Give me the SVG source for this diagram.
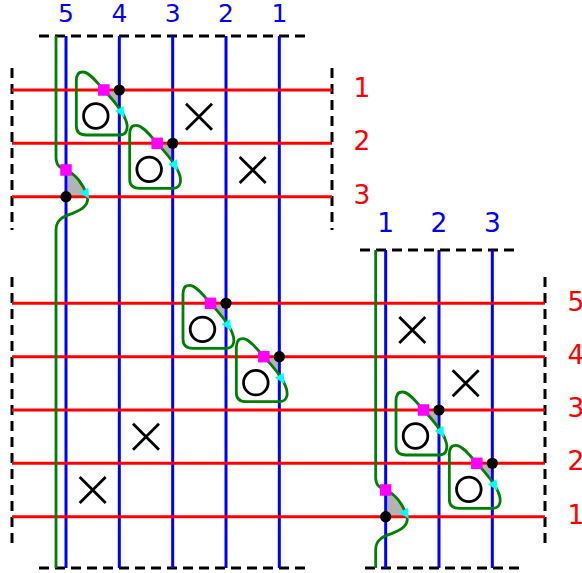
<svg xmlns="http://www.w3.org/2000/svg" xmlns:xlink="http://www.w3.org/1999/xlink" width="582" height="573" viewBox="0 0 582 573">
<style>
.red{stroke:#ff0000;stroke-width:3;fill:none}
.blue{stroke:#0000ff;stroke-width:3;fill:none}
.dash{stroke:#000;stroke-width:3;stroke-dasharray:10 6;fill:none}
.green{stroke:#008000;stroke-width:2.8;fill:none}
.shade{fill:#b3b3b3}
.mark{stroke:#000;stroke-width:2.8;fill:none}
.mag{fill:#ff00ff}
.cyan{fill:#00ffff}
.lb{font-family:"DejaVu Sans",sans-serif;font-size:26.5px;text-anchor:middle}
.top{font-size:25px}
.lblue{fill:#0000ff}
.lred{fill:#ff0000}
</style>
<defs>
<g id="loopShade"><path class="shade" d="M -15.5,1.5 L -1.5,1.5 L -1.5,18 C -6,12.5 -10,6.5 -15.5,1.5 Z"/></g>
<g id="loop">
<path class="green" d="M -37,-18 C -30,-18.5 -22,-7 -15.5,0 C -8,8 2,19 6,29 C 9,36 9,45 0,45 L -33,45 C -40,45 -43,42 -43,36 L -43,-9 C -43,-15 -41,-18 -37,-18 Z"/>
<circle class="mark" cx="-23.5" cy="26" r="12.3"/>
<rect class="mag" x="-21.25" y="-5.75" width="11.5" height="11.5"/>
<circle r="5.6" fill="#000"/>
<path class="cyan" d="M 6,0 L -4,-5 L -4,5 Z" transform="translate(2,22) rotate(60)"/>
</g>
<g id="kinkShade"><path class="shade" d="M 1.5,-26.67 L 1.5,-1.5 L 20.5,-1.5 C 16,-13 9,-22 1.5,-26 Z"/></g>
<g id="kink">
<rect class="mag" x="-5.75" y="-32.42" width="11.5" height="11.5"/>
<circle r="5.6" fill="#000"/>
<path class="cyan" d="M 6,0 L -4,-5 L -4,5 Z" transform="translate(20,-3) rotate(60)"/>
</g>
<path id="xm" class="mark" d="M -13,-13 L 13,13 M 13,-13 L -13,13"/>
</defs>

<g id="shading">
<use xlink:href="#loopShade" transform="translate(119.33,90)"/>
<use xlink:href="#loopShade" transform="translate(172.67,143.33)"/>
<use xlink:href="#loopShade" transform="translate(226,303.33)"/>
<use xlink:href="#loopShade" transform="translate(279.33,356.67)"/>
<use xlink:href="#loopShade" transform="translate(439,410)"/>
<use xlink:href="#loopShade" transform="translate(492.33,463.33)"/>
<use xlink:href="#kinkShade" transform="translate(66,196.67)"/>
<use xlink:href="#kinkShade" transform="translate(385.67,516.67)"/>
</g>

<g id="frames">
<line class="dash" x1="39" y1="36" x2="306" y2="36"/>
<line class="dash" x1="39" y1="568" x2="306" y2="568"/>
<line class="dash" x1="360" y1="250" x2="520" y2="250"/>
<line class="dash" x1="365" y1="568" x2="520" y2="568"/>
<line class="dash" x1="12" y1="68" x2="12" y2="230"/>
<line class="dash" x1="332" y1="68" x2="332" y2="230"/>
<line class="dash" x1="12" y1="277" x2="12" y2="545"/>
<line class="dash" x1="545" y1="277" x2="545" y2="545"/>
</g>

<g id="connectors">
<g id="blue-strands">
<line class="blue" x1="66" y1="36" x2="66" y2="568"/>
<line class="blue" x1="119.33" y1="36" x2="119.33" y2="568"/>
<line class="blue" x1="172.67" y1="36" x2="172.67" y2="568"/>
<line class="blue" x1="226" y1="36" x2="226" y2="568"/>
<line class="blue" x1="279.33" y1="36" x2="279.33" y2="568"/>
<line class="blue" x1="385.67" y1="250" x2="385.67" y2="568"/>
<line class="blue" x1="439" y1="250" x2="439" y2="568"/>
<line class="blue" x1="492.33" y1="250" x2="492.33" y2="568"/>
</g>
<g id="red-strands">
<line class="red" x1="12" y1="90" x2="332" y2="90"/>
<line class="red" x1="12" y1="143.33" x2="332" y2="143.33"/>
<line class="red" x1="12" y1="196.67" x2="332" y2="196.67"/>
<line class="red" x1="12" y1="303.33" x2="545" y2="303.33"/>
<line class="red" x1="12" y1="356.67" x2="545" y2="356.67"/>
<line class="red" x1="12" y1="410" x2="545" y2="410"/>
<line class="red" x1="12" y1="463.33" x2="545" y2="463.33"/>
<line class="red" x1="12" y1="516.67" x2="545" y2="516.67"/>
</g>
<g id="green-strands">
<path class="green" d="M 56,36 L 56,156.67 C 56,164.67 59,167.67 66,170 C 75,173.67 83,183.67 87,195.67 C 90,204.67 82,209.67 72,213.67 C 62,216.67 56,220.67 56,229.67 L 56,568"/>
<path class="green" d="M 375.67,250 L 375.67,476.67 C 375.67,484.67 378.67,487.67 385.67,490 C 394.67,493.67 402.67,503.67 406.67,515.67 C 409.67,524.67 401.67,529.67 391.67,533.67 C 381.67,536.67 375.67,540.67 375.67,549.67 L 375.67,568"/>
</g>
</g>

<g id="kink-left"><use xlink:href="#kink" transform="translate(66,196.67)"/></g>
<g id="kink-right"><use xlink:href="#kink" transform="translate(385.67,516.67)"/></g>

<g id="loop-1"><use xlink:href="#loop" transform="translate(119.33,90)"/></g>
<g id="loop-2"><use xlink:href="#loop" transform="translate(172.67,143.33)"/></g>
<g id="loop-3"><use xlink:href="#loop" transform="translate(226,303.33)"/></g>
<g id="loop-4"><use xlink:href="#loop" transform="translate(279.33,356.67)"/></g>
<g id="loop-5"><use xlink:href="#loop" transform="translate(439,410)"/></g>
<g id="loop-6"><use xlink:href="#loop" transform="translate(492.33,463.33)"/></g>

<g id="cross-1"><use xlink:href="#xm" transform="translate(199,116.67)"/></g>
<g id="cross-2"><use xlink:href="#xm" transform="translate(252.67,170)"/></g>
<g id="cross-3"><use xlink:href="#xm" transform="translate(146,436.67)"/></g>
<g id="cross-4"><use xlink:href="#xm" transform="translate(92.67,490)"/></g>
<g id="cross-5"><use xlink:href="#xm" transform="translate(412.33,330)"/></g>
<g id="cross-6"><use xlink:href="#xm" transform="translate(465.67,383.33)"/></g>

<g id="labels">
<text class="lb top lblue" x="66" y="22">5</text>
<text class="lb top lblue" x="119.33" y="22">4</text>
<text class="lb top lblue" x="172.67" y="22">3</text>
<text class="lb top lblue" x="226" y="22">2</text>
<text class="lb top lblue" x="279.33" y="22">1</text>
<text class="lb lblue" x="385.67" y="232">1</text>
<text class="lb lblue" x="439" y="232">2</text>
<text class="lb lblue" x="492.33" y="232">3</text>
<text class="lb lred" x="362" y="97">1</text>
<text class="lb lred" x="362" y="150">2</text>
<text class="lb lred" x="362" y="203.5">3</text>
<text class="lb lred" x="576" y="310.5">5</text>
<text class="lb lred" x="576" y="363.5">4</text>
<text class="lb lred" x="576" y="417">3</text>
<text class="lb lred" x="576" y="470">2</text>
<text class="lb lred" x="576" y="523.5">1</text>
</g>
</svg>
